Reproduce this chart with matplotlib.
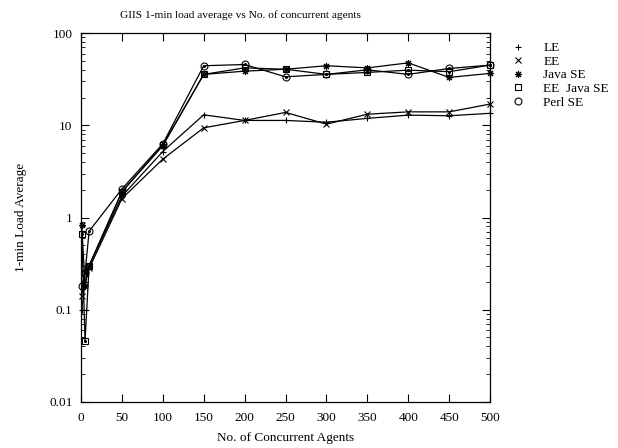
import matplotlib
matplotlib.use("Agg")
import matplotlib.pyplot as plt
from matplotlib.lines import Line2D
from matplotlib.ticker import LogLocator, FixedLocator, NullFormatter

plt.rcParams['font.family'] = ['Liberation Serif', 'DejaVu Serif']

# aantal gelijktijdige agents
agents = [1, 5, 10, 50, 100, 150, 200, 250, 300, 350, 400, 450, 500]

# 1-min load average per configuratie
le = [0.10, 0.20, 0.30, 1.7, 5.2, 13.0, 11.3, 11.3, 10.8, 11.9, 12.9, 12.7, 13.5]
ee = [0.14, 0.25, 0.28, 1.6, 4.3, 9.4, 11.3, 13.8, 10.3, 13.2, 14.0, 14.0, 17.0]
java_se = [0.83, 0.18, 0.30, 1.9, 6.0, 35.7, 38.7, 40.6, 44.3, 42.0, 47.6, 33.1, 36.6]
ee_java_se = [0.67, 0.046, 0.30, 1.9, 6.1, 35.7, 42.0, 40.6, 35.7, 37.5, 39.7, 38.2, 45.0]
perl_se = [0.18, 0.25, 0.71, 2.04, 6.3, 44.3, 45.7, 33.6, 35.7, 40.0, 35.7, 41.4, 45.0]

labels = ["LE", "EE", "Java SE", "EE  Java SE", "Perl SE"]
series = [le, ee, java_se, ee_java_se, perl_se]
markers = ['+', 'x', (8, 2, 0), 's', 'o']
center_dot = [False, False, False, True, True]

x_ticks = [0, 50, 100, 150, 200, 250, 300, 350, 400, 450, 500]
y_ticks = [0.01, 0.1, 1, 10, 100]
y_tick_labels = ["0.01", "0.1", "1", "10", "100"]

fig = plt.figure(figsize=(6.18, 4.48), dpi=100)
ax = fig.add_axes([0.131, 0.103, 0.662, 0.823])

handles = []
for data, label, marker, dot in zip(series, labels, markers, center_dot):
    ax.plot(agents, data, color='black', linewidth=0.9, marker=marker,
            markersize=5, markerfacecolor='none', markeredgecolor='black',
            markeredgewidth=0.8, clip_on=False)
    if dot:
        ax.plot(agents, data, linestyle='none', marker='o', markersize=1.2,
                color='black', clip_on=False)
    handles.append(Line2D([], [], color='black', marker=marker, linestyle='none',
                          markersize=5, markerfacecolor='none', markeredgewidth=0.8))

ax.set_yscale('log')
ax.set_xlim(0, 500)
ax.set_ylim(0.01, 100)
ax.xaxis.set_major_locator(FixedLocator(x_ticks))
ax.yaxis.set_major_locator(FixedLocator(y_ticks))
ax.set_yticklabels(y_tick_labels)
ax.yaxis.set_minor_locator(LogLocator(base=10, subs=range(2, 10)))
ax.yaxis.set_minor_formatter(NullFormatter())

ax.tick_params(which='both', direction='in', top=True, right=True, labelsize=9.5)
ax.tick_params(which='major', length=6, width=0.8)
ax.tick_params(which='minor', length=3, width=0.6)
ax.tick_params(axis='y', pad=6)
ax.tick_params(axis='x', pad=7)
for spine in ax.spines.values():
    spine.set_linewidth(0.9)

ax.set_title("GIIS 1-min load average vs No. of concurrent agents", fontsize=8.2,
             pad=11, x=0.389)
ax.set_xlabel("No. of Concurrent Agents", fontsize=9.5, labelpad=6)
ax.set_ylabel("1-min Load Average", fontsize=9.5, labelpad=16)

ax.legend(handles, labels, loc='upper left', bbox_to_anchor=(1.04, 0.99),
          frameon=False, fontsize=9.5, handlelength=1.0, handletextpad=1.4,
          labelspacing=0.1, borderaxespad=0)

fig.savefig("out.png", dpi=100)
